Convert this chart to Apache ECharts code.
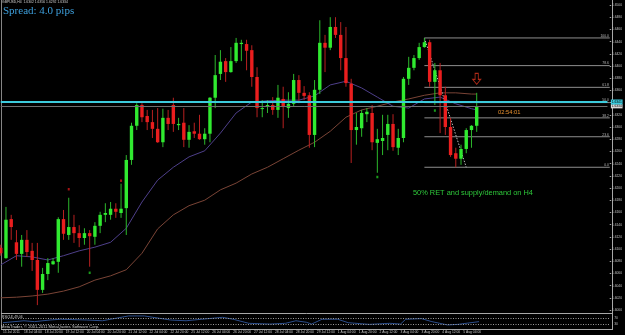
<!DOCTYPE html>
<html><head><meta charset="utf-8">
<script src="https://cdn.jsdelivr.net/npm/echarts@6/dist/echarts.min.js"></script>
<style>html,body{margin:0;padding:0;background:#000;}#c{width:625px;height:335px;}</style>
</head><body><div id="c"></div>
<script>
// ---- data ----
const tickLabels = ["15 Jul 2011","18 Jul 04:00","18 Jul 20:00","19 Jul 12:00","20 Jul 04:00","20 Jul 20:00","21 Jul 12:00","22 Jul 04:00","22 Jul 20:00","25 Jul 12:00","26 Jul 04:00","26 Jul 20:00","27 Jul 12:00","28 Jul 04:00","28 Jul 20:00","29 Jul 12:00","1 Aug 04:00","1 Aug 20:00","2 Aug 12:00","3 Aug 04:00","3 Aug 20:00","4 Aug 12:00","5 Aug 04:00"];
const opens = [1.6102,1.6085,1.6149,1.6111,1.6092,1.6115,1.6097,1.6082,1.6033,1.6059,1.6075,1.6079,1.6149,1.6123,1.6136,1.6126,1.6118,1.6126,1.6120,1.6138,1.6156,1.6156,1.6166,1.6159,1.6167,1.6246,1.6302,1.6336,1.6318,1.6308,1.6297,1.6275,1.6315,1.6336,1.6303,1.6307,1.6279,1.6293,1.6289,1.6280,1.6289,1.6348,1.6387,1.6408,1.6390,1.6408,1.6436,1.6436,1.6426,1.6382,1.6330,1.6333,1.6336,1.6328,1.6346,1.6331,1.6338,1.6377,1.6356,1.6352,1.6287,1.6361,1.6438,1.6430,1.6464,1.6451,1.6413,1.6371,1.6295,1.6298,1.6321,1.6323,1.6274,1.6277,1.6287,1.6305,1.6266,1.6282,1.6379,1.6397,1.6413,1.6431,1.6439,1.6374,1.6393,1.6352,1.6300,1.6257,1.6248,1.6264,1.6295,1.6302];
const closes = [1.6093,1.6148,1.6136,1.6092,1.6115,1.6095,1.6082,1.6033,1.6059,1.6077,1.6080,1.6149,1.6125,1.6136,1.6126,1.6118,1.6126,1.6121,1.6138,1.6156,1.6159,1.6166,1.6161,1.6166,1.6246,1.6302,1.6336,1.6316,1.6308,1.6297,1.6275,1.6315,1.6305,1.6305,1.6305,1.6279,1.6292,1.6289,1.6280,1.6289,1.6348,1.6385,1.6407,1.6390,1.6408,1.6438,1.6438,1.6425,1.6382,1.6331,1.6331,1.6336,1.6328,1.6348,1.6333,1.6338,1.6377,1.6356,1.6351,1.6287,1.6361,1.6438,1.6430,1.6464,1.6451,1.6413,1.6372,1.6295,1.6300,1.6323,1.6325,1.6275,1.6280,1.6282,1.6305,1.6267,1.6282,1.6379,1.6397,1.6413,1.6431,1.6439,1.6374,1.6393,1.6352,1.6300,1.6254,1.6248,1.6264,1.6295,1.6302,1.6334];
const lows = [1.6089,1.6084,1.6115,1.6082,1.6071,1.6087,1.6064,1.6008,1.6028,1.6049,1.6074,1.6061,1.6115,1.6115,1.6110,1.6103,1.6107,1.6071,1.6107,1.6126,1.6144,1.6148,1.6151,1.6151,1.6123,1.6238,1.6295,1.6308,1.6295,1.6282,1.6274,1.6267,1.6295,1.6292,1.6295,1.6267,1.6266,1.6282,1.6279,1.6271,1.6275,1.6331,1.6377,1.6374,1.6389,1.6405,1.6408,1.6393,1.6366,1.6316,1.6316,1.6323,1.6320,1.6315,1.6298,1.6315,1.6333,1.6339,1.6344,1.6266,1.6267,1.6354,1.6390,1.6426,1.6446,1.6393,1.6366,1.6241,1.6271,1.6284,1.6308,1.6262,1.6225,1.6254,1.6262,1.6261,1.6254,1.6275,1.6369,1.6393,1.6410,1.6430,1.6366,1.6336,1.6290,1.6287,1.6251,1.6234,1.6238,1.6257,1.6266,1.6292];
const highs = [1.6107,1.6169,1.6156,1.6131,1.6123,1.6131,1.6110,1.6110,1.6069,1.6085,1.6085,1.6152,1.6164,1.6184,1.6156,1.6139,1.6134,1.6131,1.6144,1.6161,1.6175,1.6177,1.6175,1.6207,1.6254,1.6307,1.6339,1.6339,1.6328,1.6328,1.6331,1.6330,1.6328,1.6348,1.6315,1.6331,1.6303,1.6307,1.6320,1.6298,1.6349,1.6418,1.6426,1.6413,1.6431,1.6446,1.6443,1.6443,1.6434,1.6398,1.6344,1.6344,1.6349,1.6369,1.6366,1.6357,1.6387,1.6385,1.6367,1.6357,1.6377,1.6475,1.6451,1.6480,1.6480,1.6472,1.6464,1.6379,1.6323,1.6328,1.6331,1.6336,1.6297,1.6320,1.6320,1.6321,1.6297,1.6382,1.6415,1.6418,1.6438,1.6446,1.6443,1.6405,1.6405,1.6366,1.6315,1.6266,1.6271,1.6298,1.6303,1.6356];
const maIndex = [0,3,6,9,12,15,18,21,24,27,30,33,36,39,42,45,48,51,54,57,60,63,66,69,72,75,78,81,84,87,90,91];
const maFast = [1.6074,1.6089,1.6087,1.6082,1.6089,1.6097,1.6103,1.6111,1.6134,1.6177,1.6213,1.6234,1.6251,1.6261,1.6290,1.6323,1.6341,1.6343,1.6344,1.6344,1.6351,1.6369,1.6375,1.6364,1.6349,1.6334,1.6331,1.6346,1.6349,1.6338,1.6330,1.6328];
const maSlow = [1.6020,1.6021,1.6023,1.6026,1.6031,1.6038,1.6049,1.6056,1.6066,1.6093,1.6133,1.6156,1.6171,1.6180,1.6197,1.6208,1.6223,1.6234,1.6248,1.6262,1.6275,1.6293,1.6316,1.6328,1.6334,1.6341,1.6346,1.6352,1.6356,1.6356,1.6354,1.6354];
const rsiIndex = [0,4,6,9,11,16,19,24,27,30,32,35,38,42,44,47,51,54,56,58,59,61,64,66,70,74,76,77,80,82,85,87,91];
const rsiValues = [42,55,49,60,65,60,55,87,87,71,60,55,65,78,65,38,33,38,55,45,33,65,65,42,31,38,33,65,69,49,27,31,49];
const rsiLevels = [70,30];
const fibHigh = 1.6446, fibLow = 1.6234, fibStartIdx = 81, fibEndIdx = 89;
const fibLevels = [0,23.6,38.2,50,61.8,78.6,100];
const hLinePrice = 1.6341;
const fractalUp = [[13,1.6198],[23,1.6212]];
const fractalDown = [[17,1.6061],[72,1.6218],[83,1.6327]];
const arrowMark = [[91,1.6379]];
const yMin = 1.60, yMax = 1.65, yStep = 0.002;

// ---- build ----
const N_SLOTS = 117;
const cats = Array.from({length:N_SLOTS},(_,i)=>String(i));
const candleData = opens.map((o,i)=>[i,o,closes[i],lows[i],highs[i]]);
const last = closes.length-1;
const FONT = 'Liberation Sans, Arial, sans-serif';

function renderCandle(params, api){
  const i=api.value(0), o=api.value(1), c=api.value(2), l=api.value(3), h=api.value(4);
  const po=api.coord([i,o]), pc=api.coord([i,c]), pl=api.coord([i,l]), ph=api.coord([i,h]);
  const up = c>=o;
  const x = po[0];
  const top=Math.min(po[1],pc[1]), bot=Math.max(po[1],pc[1]);
  const bh=Math.max(bot-top,1);
  const bw=3.4;
  return {type:'group',children:[
    {type:'line',shape:{x1:x,y1:ph[1],x2:x,y2:pl[1]},style:{stroke:up?'#2cb82c':'#b82020',lineWidth:1}},
    {type:'rect',shape:{x:x-bw/2,y:top,width:bw,height:bh},style:{fill:up?'#30ea30':'#ea1e1e'}}
  ]};
}
function renderFib(params, api){
  const p=api.coord([api.value(0),api.value(1)]);
  const cs=params.coordSys;
  const xEnd=cs.x+cs.width+2.3;
  return {type:'group',children:[
    {type:'line',shape:{x1:p[0],y1:p[1],x2:xEnd,y2:p[1]},style:{stroke:'#8e8e8e',lineWidth:1}},
    {type:'text',style:{x:xEnd-1,y:p[1]-0.6,text:api.value(2).toFixed(1),fill:'#bdbdbd',font:'3.3px '+FONT,textAlign:'right',textVerticalAlign:'bottom'}}
  ]};
}

const chart = echarts.init(document.getElementById('c'));
chart.setOption({
  backgroundColor:'#000',
  animation:false,
  grid:[
    {left:0.75,right:15.25,top:5,height:305},
    {left:0.75,right:15.25,top:314,height:15}
  ],
  xAxis:[
    {type:'category',gridIndex:0,data:cats,boundaryGap:false,show:false},
    {type:'category',gridIndex:1,data:cats,boundaryGap:false,
     axisLine:{show:false},axisTick:{show:false},splitLine:{show:false},
     axisLabel:{interval:3,align:'left',margin:1.8,fontSize:3.3,fontFamily:FONT,color:'#c8c8c8',
       formatter:(v)=>{const i=+v;return (i%4===0&&tickLabels[i/4])?tickLabels[i/4]:'';}}}
  ],
  yAxis:[
    {type:'value',gridIndex:0,position:'right',offset:2.25,min:yMin,max:yMax,interval:yStep,
     axisLine:{show:false},splitLine:{show:false},
     axisTick:{show:true,length:1.5,lineStyle:{color:'#a0a0a0'}},
     axisLabel:{margin:2.2,fontSize:3.3,fontFamily:FONT,color:'#c0c0c0',formatter:v=>v.toFixed(4)}},
    {type:'value',gridIndex:1,position:'right',offset:2.25,min:0,max:100,interval:10,
     axisLine:{show:false},splitLine:{show:false},axisTick:{show:false},
     axisLabel:{margin:2.2,fontSize:3.3,fontFamily:FONT,color:'#c0c0c0',
       formatter:v=>rsiLevels.indexOf(v)>=0?String(v):''}}
  ],
  series:[
    {type:'line',name:'slowMA',xAxisIndex:0,yAxisIndex:0,data:maIndex.map((j,k)=>[j,maSlow[k]]),
     showSymbol:false,symbol:'none',lineStyle:{color:'#7a4436',width:1},silent:true,z:2},
    {type:'line',name:'fastMA',xAxisIndex:0,yAxisIndex:0,data:maIndex.map((j,k)=>[j,maFast[k]]),
     showSymbol:false,symbol:'none',lineStyle:{color:'#4e3f8a',width:1},silent:true,z:2,
     markLine:{symbol:'none',silent:true,animation:false,precision:4,
       data:[
        {yAxis:closes[last],lineStyle:{color:'#6e6e6e',width:1,type:'solid'},
         label:{show:true,position:'end',distance:3.4,formatter:()=>closes[last].toFixed(4),fontSize:3.3,fontFamily:FONT,color:'#000',backgroundColor:'#d8d8d8',padding:[0.6,0.8]}},
        {yAxis:hLinePrice,lineStyle:{color:'#3ccbdc',width:2,type:'solid'},
         label:{show:true,position:'end',distance:3.4,formatter:()=>hLinePrice.toFixed(4),fontSize:3.3,fontFamily:FONT,color:'#000',backgroundColor:'#3ccbdc',padding:[1,0.8]}}
       ]}},
    {type:'custom',name:'fib',xAxisIndex:0,yAxisIndex:0,renderItem:renderFib,
     data:fibLevels.map(lv=>[fibStartIdx,fibLow+(fibHigh-fibLow)*lv/100,lv]),encode:{x:0,y:1},silent:true,z:3},
    {type:'line',name:'fibTrend',xAxisIndex:0,yAxisIndex:0,data:[[fibStartIdx,fibHigh],[fibEndIdx,fibLow]],
     showSymbol:false,symbol:'none',lineStyle:{color:'#bdbdbd',width:1,type:[1.5,1.5]},silent:true,z:3},
    {type:'custom',name:'candles',xAxisIndex:0,yAxisIndex:0,renderItem:renderCandle,data:candleData,
     encode:{x:0,y:[1,2,3,4]},clip:false,silent:true,z:4},
    {type:'scatter',xAxisIndex:0,yAxisIndex:0,data:fractalUp,symbol:'rect',symbolSize:[2,2.5],
     itemStyle:{color:'#d01818'},silent:true,z:5},
    {type:'scatter',xAxisIndex:0,yAxisIndex:0,data:fractalDown,symbol:'rect',symbolSize:[2,2.5],
     itemStyle:{color:'#20c020'},silent:true,z:5},
    {type:'scatter',xAxisIndex:0,yAxisIndex:0,data:arrowMark,
     symbol:'path://M3,0 L7,0 L7,6 L10,6 L5,11 L0,6 L3,6 Z',symbolSize:[8,11],
     itemStyle:{color:'rgba(0,0,0,0)',borderColor:'#d8341e',borderWidth:1},silent:true,z:5},
    {type:'line',name:'rsi',xAxisIndex:1,yAxisIndex:1,data:rsiIndex.map((j,k)=>[j,rsiValues[k]]),
     showSymbol:false,symbol:'none',lineStyle:{color:'#2c4e8c',width:1},silent:true,
     markLine:{symbol:'none',silent:true,animation:false,precision:0,label:{show:false},
       lineStyle:{color:'#9a9a9a',width:1,type:[1,1.5]},
       data:rsiLevels.map(v=>({yAxis:v}))}}
  ],
  graphic:[
    {type:'line',shape:{x1:1.5,y1:0,x2:1.5,y2:329.5},style:{stroke:'#858585',lineWidth:1},silent:true},
    {type:'line',shape:{x1:612.5,y1:0,x2:612.5,y2:330},style:{stroke:'#a8a8a8',lineWidth:1},silent:true},
    {type:'line',shape:{x1:1,y1:313.5,x2:612.5,y2:313.5},style:{stroke:'#a8a8a8',lineWidth:1},silent:true},
    {type:'line',shape:{x1:1,y1:329.5,x2:612.5,y2:329.5},style:{stroke:'#a8a8a8',lineWidth:1},silent:true},
    {type:'text',left:2,top:1,silent:true,style:{text:'GBPUSD,H4  '+opens[last].toFixed(4)+' '+highs[last].toFixed(4)+' '+lows[last].toFixed(4)+' '+closes[last].toFixed(4),fill:'#d0d0d0',font:'3.4px '+FONT}},
    {type:'text',left:3,top:5.5,silent:true,style:{text:'Spread: 4.0 pips',fill:'#3d9fdc',font:'11px Liberation Serif, Times New Roman, serif'}},
    {type:'text',left:498,top:109,silent:true,style:{text:'02:54:01',fill:'#e8902e',font:'5.8px '+FONT}},
    {type:'text',left:413,top:189.5,silent:true,style:{text:'50% RET and supply/demand on H4',fill:'#2ec83a',font:'7.4px '+FONT}},
    {type:'text',left:2,top:315.8,silent:true,style:{text:'RSI(14) 49.06',fill:'#c8c8c8',font:'3.3px '+FONT}},
    {type:'text',left:1,top:324.6,silent:true,style:{text:'MetaTrader, \u00a9 2001-2011 MetaQuotes Software Corp.',fill:'#d0d0d0',font:'4.1px '+FONT}}
  ]
});
</script>
</body></html>
